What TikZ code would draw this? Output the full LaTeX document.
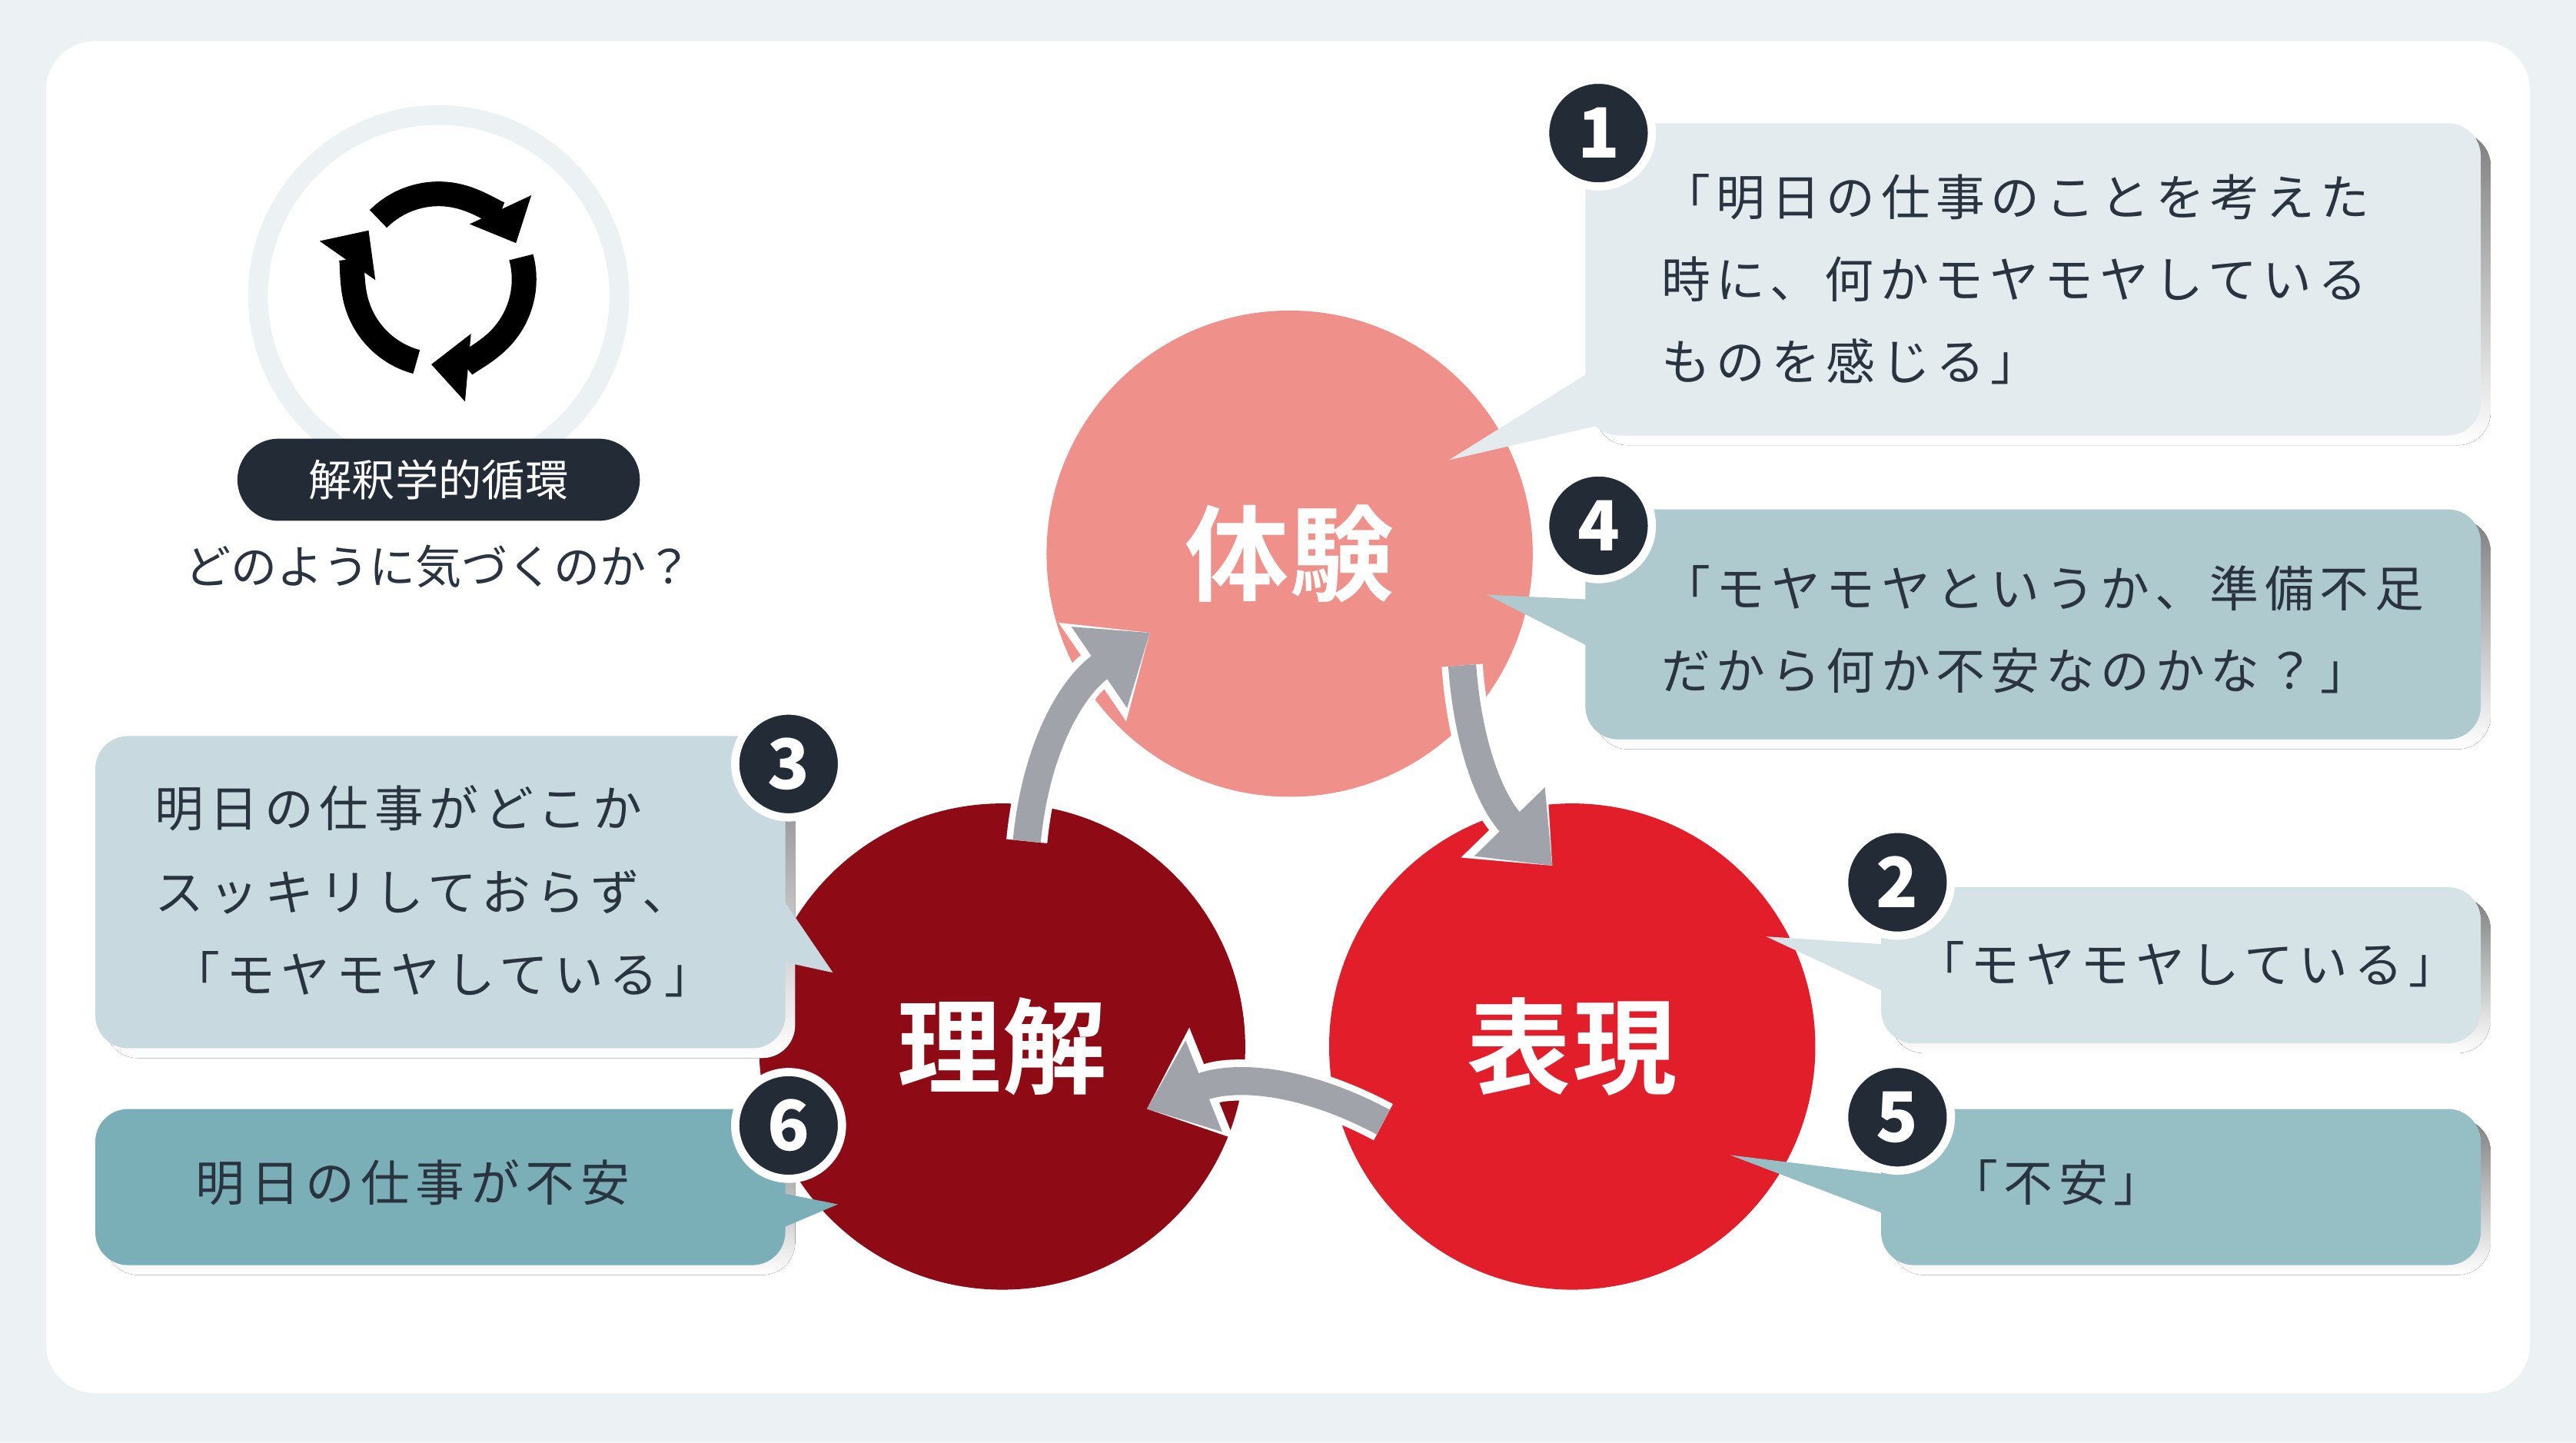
\documentclass[tikz,border=0pt]{standalone}
\usepackage{fontspec}
\setmainfont{Noto Sans CJK JP}
\newfontfamily\cjk[LetterSpace=12]{Noto Sans CJK JP}
\newfontfamily\cjkb[LetterSpace=2]{Noto Sans CJK JP Bold}
\usetikzlibrary{arrows.meta}
\definecolor{bg}{HTML}{ECF1F3}
\definecolor{ink}{HTML}{2A3440}
\definecolor{badge}{HTML}{222B36}
\definecolor{cA}{HTML}{F0908A}
\definecolor{cB}{HTML}{E31E2B}
\definecolor{cC}{HTML}{8E0A14}
\definecolor{b1}{HTML}{E4EBEE}
\definecolor{b4}{HTML}{AFCACF}
\definecolor{b2}{HTML}{D5E2E6}
\definecolor{b5}{HTML}{95BEC5}
\definecolor{b3}{HTML}{C8DADF}
\definecolor{b6}{HTML}{7AAFB8}
\definecolor{shade}{HTML}{D3D8DB}
\definecolor{arr}{HTML}{A0A4AA}
\begin{document}
\begin{tikzpicture}[x=0.02cm,y=-0.02cm,
  bigc/.style={circle,minimum size=5.92cm,inner sep=0pt,text=white,font=\fontsize{36}{40}\selectfont\cjkb},
  bdg/.style={circle,fill=badge,draw=white,line width=0.1cm,minimum size=1.3cm,inner sep=0pt,text=white,font=\fontsize{24}{26}\selectfont\bfseries},
  txt/.style={anchor=west,text=ink,font=\fontsize{17}{20}\selectfont\cjk},
  flow/.style={line width=0.34cm,arr,-{Triangle[length=0.75cm,width=1.15cm]}},
  flowbg/.style={line width=0.5cm,white,-{Triangle[length=0.85cm,width=1.4cm]}},
  rec/.style={line width=0.3cm,black,-{Triangle[length=0.45cm,width=0.8cm]}}]
\fill[bg] (0,0) rectangle (1568,878);
\fill[white,rounded corners=0.6cm] (28,25) rectangle (1540,848);
% icon
\node[circle,draw=bg,line width=0.24cm,minimum size=4.4cm] (icon) at (267,180) {};
\draw[rec] (267,170) ++(105:52) arc (105:215:52);
\draw[rec] (267,170) ++(225:52) arc (225:335:52);
\draw[rec] (267,170) ++(345:52) arc (345:455:52);
\node[fill=badge,rounded corners=0.5cm,minimum width=4.9cm,minimum height=1cm,text=white,font=\fontsize{15}{18}\selectfont] (pill) at (267,292) {解釈学的循環};
\node[text=ink,font=\fontsize{16}{18}\selectfont] (q) at (267,345) {どのように気づくのか？};
% circles
\node[bigc,fill=cA] (ta) at (785,337) {体験};
\node[bigc,fill=cB] (hy) at (957,637) {表現};
\node[bigc,fill=cC] (ri) at (610,637) {理解};
% arrows
\coordinate (a1s) at (625,512); \coordinate (a1e) at (700,385);
\coordinate (a2s) at (890,405); \coordinate (a2e) at (945,527);
\coordinate (a3s) at (842,683); \coordinate (a3e) at (698,675);
\foreach \s/\e/\b in {a1s/a1e/25,a2s/a2e/-20,a3s/a3e/-25}{
  \draw[flowbg] (\s) to[bend left=\b] (\e);
  \draw[flow] (\s) to[bend left=\b] (\e);}
% callout 1
\fill[shade,rounded corners=0.4cm] (971,81) rectangle (1516,271);
\fill[b1] (970,225) -- (882,280) -- (990,255) -- cycle;
\fill[b1,rounded corners=0.4cm] (965,75) rectangle (1510,265);
\node[bdg] (n1) at (973,81) {1};
\node[txt] (t1a) at (1005,120) {「明日の仕事のことを考えた};
\node[txt] (t1b) at (1005,170) {時に、何かモヤモヤしている};
\node[txt] (t1c) at (1005,220) {ものを感じる」};
% callout 4
\fill[shade,rounded corners=0.4cm] (971,316) rectangle (1516,456);
\fill[b4] (970,365) -- (905,362) -- (970,395) -- cycle;
\fill[b4,rounded corners=0.4cm] (965,310) rectangle (1510,450);
\node[bdg] (n4) at (973,320) {4};
\node[txt] (t4a) at (1005,358) {「モヤモヤというか、準備不足};
\node[txt] (t4b) at (1005,408) {だから何か不安なのかな？」};
% callout 2
\fill[shade,rounded corners=0.4cm] (1151,546) rectangle (1516,641);
\fill[b2] (1150,575) -- (1075,570) -- (1150,605) -- cycle;
\fill[b2,rounded corners=0.4cm] (1145,540) rectangle (1510,635);
\node[bdg] (n2) at (1155,537) {2};
\node[txt] (t2) at (1160,587) {「モヤモヤしている」};
% callout 5
\fill[shade,rounded corners=0.4cm] (1151,681) rectangle (1516,776);
\fill[b5] (1150,715) -- (1053,703) -- (1150,740) -- cycle;
\fill[b5,rounded corners=0.4cm] (1145,675) rectangle (1510,770);
\node[bdg] (n5) at (1155,680) {5};
\node[txt] (t5) at (1180,720) {「不安」};
% callout 3
\fill[shade,rounded corners=0.4cm] (64,454) rectangle (484,644);
\fill[b3] (475,545) -- (507,592) -- (475,585) -- cycle;
\fill[b3,rounded corners=0.4cm] (58,448) rectangle (478,638);
\node[bdg] (n3) at (480,465) {3};
\node[txt] (t3a) at (88,492) {明日の仕事がどこか};
\node[txt] (t3b) at (88,543) {スッキリしておらず、};
\node[txt] (t3c) at (98,593) {「モヤモヤしている」};
% callout 6
\fill[shade,rounded corners=0.4cm] (64,681) rectangle (484,776);
\fill[b6] (470,725) -- (510,733) -- (470,750) -- cycle;
\fill[b6,rounded corners=0.4cm] (58,675) rectangle (478,770);
\node[bdg] (n6) at (480,685) {6};
\node[txt] (t6) at (113,720) {明日の仕事が不安};
\end{tikzpicture}
\end{document}
